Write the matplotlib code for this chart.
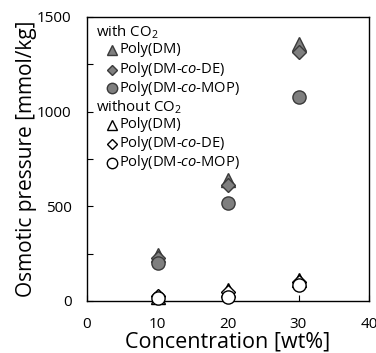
import matplotlib
matplotlib.use("Agg")
import matplotlib.pyplot as plt
from matplotlib.ticker import MultipleLocator

plt.rcParams['font.family'] = ['Open Sans', 'DejaVu Sans']
plt.rcParams['mathtext.fontset'] = 'custom'
plt.rcParams['mathtext.rm'] = 'Open Sans'
plt.rcParams['mathtext.it'] = 'Open Sans:italic'

# data (wt%, mmol/kg)
conc = [10, 20, 30]
with_dm = [245, 640, 1355]
with_de = [225, 615, 1315]
with_mop = [200, 520, 1080]
without_dm = [20, 60, 110]
without_de = [25, 50, 100]
without_mop = [15, 22, 85]

labels = ['Poly(DM)', r'Poly(DM-$\it{co}$-DE)', r'Poly(DM-$\it{co}$-MOP)']
headers = [r'with CO$_2$', r'without CO$_2$']

FILL = '#7f7f7f'
EDGE = '#3a3a3a'

fig = plt.figure(figsize=(3.76, 3.53), dpi=100)
ax = fig.add_axes([87/376, 1 - 301/353, 282/376, 284/353])

series = [
    (with_dm, '^', FILL, EDGE),
    (with_de, 'D', FILL, EDGE),
    (with_mop, 'o', FILL, EDGE),
    (without_dm, '^', 'white', 'black'),
    (without_de, 'D', 'white', 'black'),
    (without_mop, 'o', 'white', 'black'),
]
sizes = {'^': 9.5, 'D': 7, 'o': 9.5}
for vals, mk, fc, ec in series:
    ax.plot(conc, vals, ls='none', marker=mk, ms=sizes[mk], mfc=fc, mec=ec,
            mew=1.0, clip_on=False, zorder=3)

ax.set_xlim(0, 40)
ax.set_ylim(0, 1500)
ax.set_xticks([0, 10, 20, 30, 40])
ax.yaxis.set_major_locator(MultipleLocator(500))
ax.yaxis.set_minor_locator(MultipleLocator(250))
ax.tick_params(which='both', direction='in', labelsize=11, length=4, width=0.8)
ax.tick_params(axis='x', pad=11.5)
ax.tick_params(axis='y', pad=11)
for s in ax.spines.values():
    s.set_linewidth(1.0)

ax.set_xlabel('Concentration [wt%]', fontsize=15.5, labelpad=0)
ax.set_ylabel('Osmotic pressure [mmol/kg]', fontsize=15, labelpad=0)

# legend drawn by hand
ys = [0.947, 0.884, 0.815, 0.750, 0.683, 0.620, 0.553, 0.486]
legend_markers = ['^', 'D', 'o']
legend_ms = {'^': 6.5, 'D': 5.5, 'o': 7.5}
ax.text(0.032, ys[0], headers[0], transform=ax.transAxes, fontsize=10.8, va='center')
ax.text(0.032, ys[4], headers[1], transform=ax.transAxes, fontsize=10.8, va='center')
for i in range(3):
    mk = legend_markers[i]
    for row, fc, ec in [(ys[1 + i], FILL, EDGE), (ys[5 + i], 'white', 'black')]:
        ax.plot([0.089], [row], transform=ax.transAxes, ls='none',
                marker=mk, ms=legend_ms[mk], mfc=fc, mec=ec, mew=1.0, clip_on=False)
        ax.text(0.115, row, labels[i], transform=ax.transAxes, fontsize=10.6, va='center')

fig.savefig('out.png', dpi=100)
